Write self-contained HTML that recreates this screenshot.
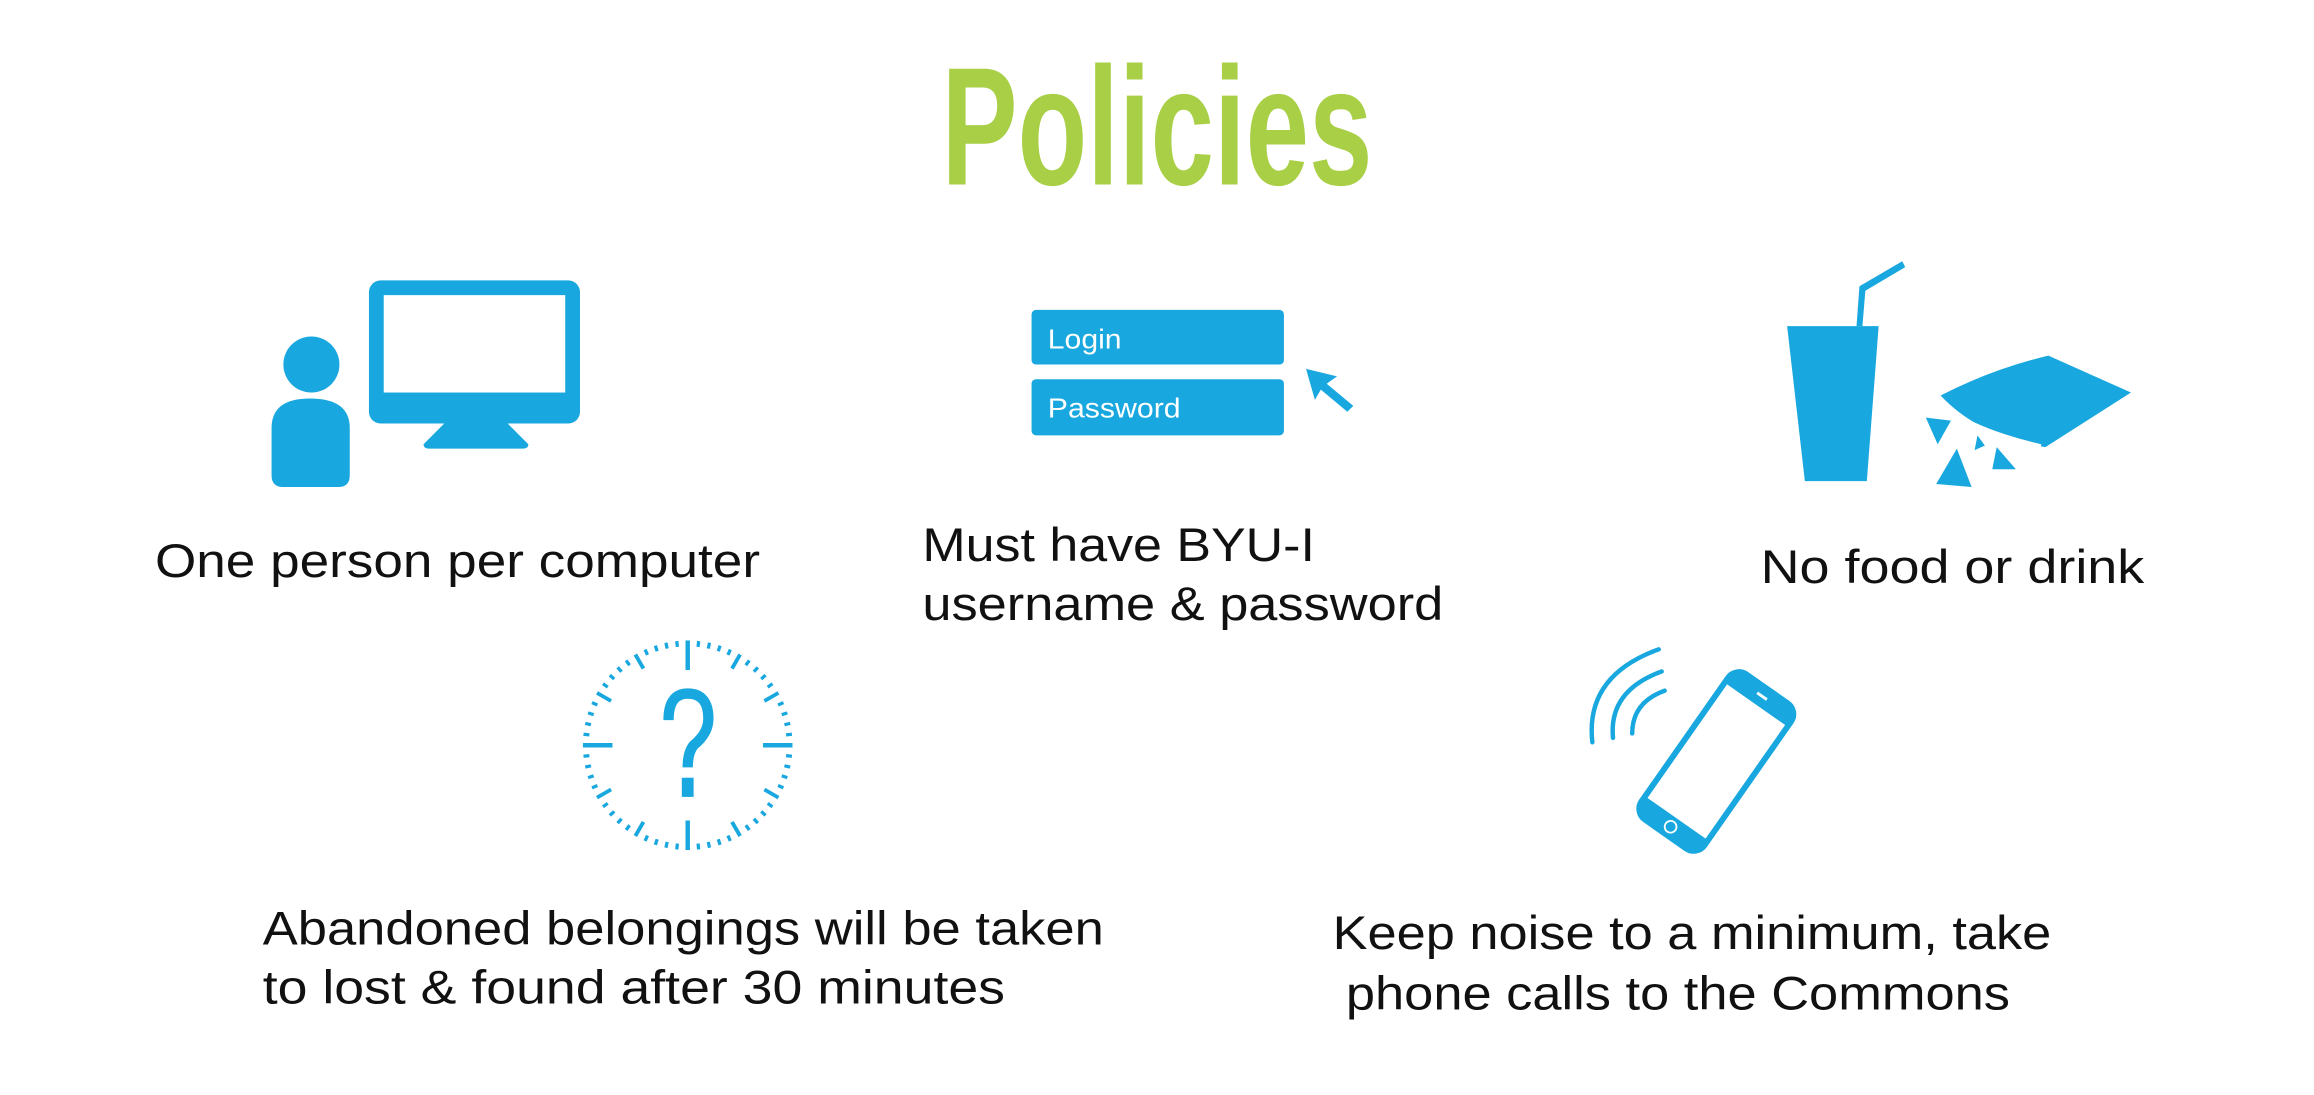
<!DOCTYPE html>
<html><head><meta charset="utf-8"><style>
html,body{margin:0;padding:0;background:#fff;width:2314px;height:1095px;overflow:hidden}
svg{display:block}
text{font-family:"Liberation Sans","DejaVu Sans",sans-serif}
</style></head><body>
<svg width="2314" height="1095" viewBox="0 0 1568 742" xmlns="http://www.w3.org/2000/svg">
<rect width="1568" height="742" fill="#fff"/>
<text x="638" y="125" font-size="114" font-weight="bold" fill="#a8cf45" textLength="292" lengthAdjust="spacingAndGlyphs">Policies</text>

<g fill="#18a7de">
  <circle cx="211" cy="247" r="19"/>
  <path d="M184 290 Q184 270 210 270 Q237 270 237 290 L237 322 Q237 330 229 330 L192 330 Q184 330 184 322 Z"/>
  <rect x="250" y="190" width="143" height="97" rx="8"/>
  <rect x="260" y="200" width="123" height="66" fill="#fff"/>
  <path d="M301 287 L344 287 L358 301 Q358 304 354 304 L291 304 Q287 304 287 301 Z"/>
</g>
<text x="105" y="391" font-size="32" fill="#111" textLength="410" lengthAdjust="spacingAndGlyphs">One person per computer</text>

<g>
  <rect x="699" y="210" width="171" height="37" rx="3" fill="#18a7de"/>
  <text x="710" y="236" font-size="19" fill="#fff" textLength="50" lengthAdjust="spacingAndGlyphs">Login</text>
  <rect x="699" y="257" width="171" height="38" rx="3" fill="#18a7de"/>
  <text x="710" y="283" font-size="19" fill="#fff" textLength="90" lengthAdjust="spacingAndGlyphs">Password</text>
  <path d="M885 250 L906 255 L899 260 L917 275 L913 279 L895 264 L891 271 Z" fill="#18a7de"/>
</g>
<text x="625" y="380" font-size="32" fill="#111" textLength="266" lengthAdjust="spacingAndGlyphs">Must have BYU-I</text>
<text x="625" y="420" font-size="32" fill="#111" textLength="353" lengthAdjust="spacingAndGlyphs">username &amp; password</text>

<g fill="#18a7de">
  <path d="M1211 221 L1273 221 L1265 326 L1223 326 Z"/>
  <path d="M1258 221 L1260 194 L1289 177 L1291 181 L1264 197 L1262 221 Z"/>
  <path d="M1315 268 Q1350 250 1388 241 L1444 266 L1386 303 Q1340 295 1315 268 Z"/>
  <path d="M1318 276 Q1340 292 1383 302" stroke="#fff" stroke-width="2" fill="none"/>
  <path d="M1305 283 L1322 285 L1313 301 Z"/>
  <path d="M1326 304 L1336 330 L1312 328 Z"/>
  <path d="M1340 295 L1345 302 L1338 305 Z"/>
  <path d="M1353 303 L1366 318 L1350 318 Z"/>
</g>
<text x="1193" y="395" font-size="32" fill="#111" textLength="260" lengthAdjust="spacingAndGlyphs">No food or drink</text>

<g id="clock" stroke="#18a7de" fill="none"></g>
<g fill="none" stroke="#18a7de" stroke-width="7">
  <path d="M453 488 Q453 470 466 470 Q480 470 480 487 Q480 497 470 505 Q466 510 466 520"/>
  <rect x="462" y="527" width="8" height="13" fill="#18a7de" stroke="none"/>
</g>
<text x="178" y="640" font-size="32" fill="#111" textLength="570" lengthAdjust="spacingAndGlyphs">Abandoned belongings will be taken</text>
<text x="178" y="680" font-size="32" fill="#111" textLength="503" lengthAdjust="spacingAndGlyphs">to lost &amp; found after 30 minutes</text>

<g transform="translate(1163 516) rotate(35)">
  <rect x="-26" y="-60" width="52" height="120" rx="9" fill="#fff" stroke="#18a7de" stroke-width="4"/>
  <path d="M-26 -47 Q-26 -60 -14 -60 L14 -60 Q26 -60 26 -47 Z" fill="#18a7de"/>
  <path d="M-26 47 L26 47 Q26 60 14 60 L-14 60 Q-26 60 -26 47 Z" fill="#18a7de"/>
  <circle cx="0" cy="54" r="4" fill="none" stroke="#fff" stroke-width="1.2"/>
  <rect x="-4" y="-55" width="8" height="2" fill="#fff"/>
</g>
<g fill="none" stroke="#18a7de" stroke-width="3" stroke-linecap="round">
  <path d="M1079 503 Q1074 458 1124 440"/>
  <path d="M1093 500 Q1090 468 1126 455"/>
  <path d="M1106 497 Q1106 476 1128 468"/>
</g>
<text x="903" y="643" font-size="32" fill="#111" textLength="487" lengthAdjust="spacingAndGlyphs">Keep noise to a minimum, take</text>
<text x="912" y="684" font-size="32" fill="#111" textLength="450" lengthAdjust="spacingAndGlyphs">phone calls to the Commons</text>
</svg>
<script>
const clockTicks = 60;
const g = document.getElementById('clock');
const cx = 466, cy = 505, R = 71;
for (let i = 0; i < clockTicks; i++) {
  const a = i / clockTicks * Math.PI * 2;
  let len = 4, w = 2.2;
  if (i % 15 === 0) { len = 20; w = 3; }
  else if (i % 5 === 0) { len = 11; w = 2.6; }
  const l = document.createElementNS('http://www.w3.org/2000/svg', 'line');
  
  
  l.setAttribute('x1', cx + Math.sin(a) * R);
  l.setAttribute('y1', cy - Math.cos(a) * R);
  l.setAttribute('x2', cx + Math.sin(a) * (R - len));
  l.setAttribute('y2', cy - Math.cos(a) * (R - len));
  l.setAttribute('stroke-width', w);
  g.appendChild(l);
}
</script>
</body></html>
